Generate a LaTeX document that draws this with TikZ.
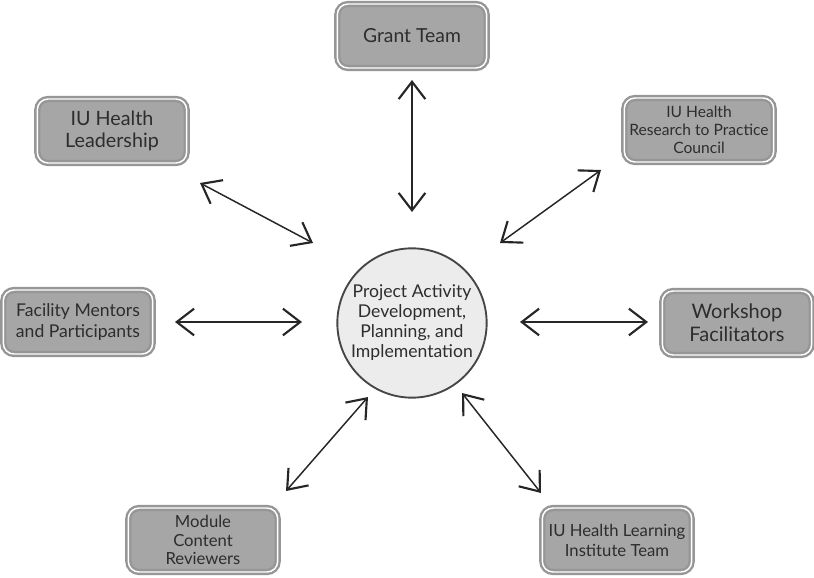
\documentclass[tikz,border=0pt]{standalone}
\usepackage{fontspec}
\setmainfont{Lato}
\usetikzlibrary{arrows.meta}
\definecolor{boxfill}{RGB}{166,166,166}
\definecolor{boxedge}{RGB}{150,150,150}
\definecolor{txt}{RGB}{45,45,45}
\definecolor{circfill}{RGB}{236,236,236}
\definecolor{circedge}{RGB}{70,70,70}
\tikzset{
  rolebox/.style={draw=boxedge, double=white, double distance=1.1pt, line width=1.8pt,
    fill=boxfill, rounded corners=8pt, minimum width=112pt, minimum height=48pt,
    align=center, text=txt, inner sep=2pt},
  hub/.style={circle, draw=circedge, line width=1.4pt, fill=circfill, minimum size=112pt,
    align=center, text=txt, inner sep=0pt, font=\fontsize{13.2pt}{15pt}\selectfont},
  link/.style={line width=1.1pt, draw=black!85,
    {Straight Barb[length=13pt,width=20pt,line width=1.6pt]}-{Straight Barb[length=13pt,width=20pt,line width=1.6pt]}}
}
\begin{document}
\begin{tikzpicture}[x=0.75pt,y=-0.75pt]
\useasboundingbox (0,0) rectangle (814,578);
\node[hub] (c) at (412,323) {Project Activity\\Development,\\Planning, and\\Implementation};
\node[rolebox, font=\fontsize{14.5pt}{17pt}\selectfont] (grant) at (412,36) {Grant Team};
\node[rolebox, font=\fontsize{14.8pt}{17pt}\selectfont] (lead) at (112,131) {IU Health\\Leadership};
\node[rolebox, font=\fontsize{11.7pt}{13.5pt}\selectfont] (res) at (699,130) {IU Health\\Research to Practice\\Council};
\node[rolebox, font=\fontsize{13.2pt}{15.5pt}\selectfont] (fac) at (78,322) {Facility Mentors\\and Participants};
\node[rolebox, font=\fontsize{15pt}{17.5pt}\selectfont] (work) at (737,323) {Workshop\\Facilitators};
\node[rolebox, font=\fontsize{12.5pt}{14pt}\selectfont] (mod) at (203,540) {Module\\Content\\Reviewers};
\node[rolebox, font=\fontsize{12.5pt}{15pt}\selectfont] (learn) at (617,540) {IU Health Learning\\Institute Team};
\coordinate (g1) at (412,80);  \coordinate (g2) at (412,212);
\coordinate (l1) at (200,183); \coordinate (l2) at (313,243);
\coordinate (r1) at (601,170); \coordinate (r2) at (500,243);
\coordinate (f1) at (175,322); \coordinate (f2) at (302,322);
\coordinate (w1) at (520,322); \coordinate (w2) at (648,322);
\coordinate (m1) at (286,491); \coordinate (m2) at (368,397);
\coordinate (n1) at (462,393); \coordinate (n2) at (541,493);
\draw[link] (g1) -- (g2);
\draw[link] (l1) -- (l2);
\draw[link] (r1) -- (r2);
\draw[link] (f1) -- (f2);
\draw[link] (w1) -- (w2);
\draw[link] (m1) -- (m2);
\draw[link] (n1) -- (n2);
\end{tikzpicture}
\end{document}
